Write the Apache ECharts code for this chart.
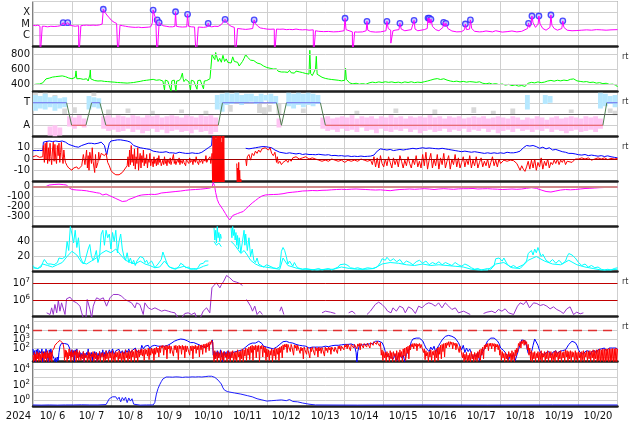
<!DOCTYPE html>
<html><head><meta charset="utf-8">
<script src="https://cdn.jsdelivr.net/npm/echarts@6/dist/echarts.min.js"></script>
<style>html,body{margin:0;padding:0;background:#fff}#c{width:634px;height:424px}</style>
</head><body><div id="c"></div><script>
// time axis: hours since 2024-10-06 00:00
const dayLabels = ['10/ 6','10/ 7','10/ 8','10/ 9','10/10','10/11','10/12','10/13','10/14','10/15','10/16','10/17','10/18','10/19','10/20'];
const yearLabel = '2024';
const rtLabel = 'rt';
const xrayClassLabels = {'-6':'C','-5':'M','-4':'X'};
const sectorLabels = {'1':'T','-1':'A'};

// X-ray flux, log10 W/m2
const xrayLog = [[0,-5.1],[1.5,-5.15],[3,-5.1],[4.3,-5.2],[4.4,-8],[5.6,-8],[5.7,-5.2],[7,-5.2],[9,-5.25],[11,-5.2],[13,-5.22],[15,-5.2],[17,-5.15],[18,-5.1],[18.6,-4.88],[19.5,-5.1],[20.5,-5.12],[21.4,-4.88],[22.5,-5.1],[24,-5.15],[26,-5.2],[28.1,-5.15],[28.2,-8],[29.4,-8],[29.5,-5.15],[31,-5.12],[33,-5.1],[35,-5.12],[37,-5.1],[39,-5.12],[41,-5.08],[42.6,-5.0],[43.3,-3.69],[44.3,-3.95],[45.5,-4.2],[47,-4.45],[48.5,-4.7],[50,-4.85],[51.5,-4.95],[52.2,-5.05],[52.3,-8],[53.5,-8],[53.6,-5.1],[55,-5.15],[57,-5.2],[59,-5.25],[61,-5.28],[63,-5.3],[65,-5.28],[67,-5.32],[69,-5.3],[71,-5.28],[72.5,-5.25],[73.5,-4.9],[74,-3.76],[74.8,-4.2],[75.6,-4.5],[76.3,-4.64],[76.4,-8],[77.6,-8],[77.7,-4.88],[78.5,-5.0],[80,-5.15],[82,-5.2],[84,-5.25],[86,-5.25],[87.4,-5.2],[87.8,-3.91],[88.3,-5.2],[90,-5.25],[92,-5.27],[94.7,-5.25],[95.2,-4.14],[95.8,-5.2],[97.5,-5.25],[99.5,-5.27],[100.4,-5.3],[100.5,-8],[101.7,-8],[101.8,-5.27],[103,-5.25],[105,-5.3],[107.3,-5.25],[107.9,-4.94],[108.6,-5.2],[110,-5.25],[112,-5.2],[114,-5.22],[116,-5.05],[117.2,-4.9],[118.3,-4.58],[119.3,-4.85],[120.5,-5.05],[122,-5.2],[124,-5.3],[124.6,-5.35],[124.7,-8],[125.9,-8],[126,-5.4],[127,-5.42],[129,-5.45],[131,-5.48],[133,-5.45],[135.3,-5.4],[136.2,-4.64],[137,-4.95],[138.5,-5.2],[140,-5.35],[142,-5.4],[144,-5.45],[146,-5.47],[148.6,-5.45],[148.7,-8],[149.9,-8],[150,-5.45],[152,-5.47],[154,-5.45],[156,-5.5],[158,-5.48],[160,-5.5],[162,-5.45],[164,-5.5],[166,-5.52],[168,-5.5],[170,-5.55],[172.6,-5.52],[172.7,-8],[173.9,-8],[174,-5.6],[176,-5.65],[179,-5.68],[182,-5.66],[185,-5.7],[188,-5.68],[191.6,-5.6],[192.2,-4.49],[192.8,-5.5],[194,-5.65],[196.7,-5.7],[196.8,-8],[198,-8],[198.1,-5.7],[200,-5.72],[203,-5.7],[205.2,-5.6],[205.7,-4.76],[206.2,-5.55],[208,-5.68],[211,-5.72],[214,-5.7],[217.4,-5.6],[218,-4.76],[218.8,-5.4],[220.3,-5.55],[220.4,-6.7],[221.6,-6.7],[221.7,-5.6],[223,-5.55],[225.4,-5.5],[226,-4.94],[226.8,-5.45],[229,-5.6],[231,-5.55],[233,-5.5],[234.2,-5.4],[234.7,-4.67],[235.3,-5.45],[237,-5.6],[239,-5.55],[241,-5.5],[242.8,-5.4],[243.3,-4.47],[243.7,-4.9],[244.1,-4.49],[244.6,-4.95],[245.1,-4.58],[246,-5.2],[248,-5.5],[250,-5.6],[252.5,-5.3],[252.9,-4.85],[253.6,-5.2],[254.3,-4.94],[255.5,-5.4],[258,-5.62],[261,-5.7],[264,-5.68],[265.8,-5.5],[266.3,-5.0],[267,-5.5],[268.9,-5.45],[269.4,-4.64],[270.2,-5.4],[272,-5.65],[275,-5.7],[277,-5.68],[279,-5.62],[280,-5.72],[283,-5.7],[285,-5.6],[286,-5.7],[289,-5.72],[292,-5.68],[295,-5.62],[298,-5.7],[301,-5.65],[304.6,-5.4],[305.2,-4.94],[305.9,-5.3],[306.8,-4.9],[307.3,-4.29],[308,-4.9],[309.5,-5.3],[311.1,-5.0],[311.6,-4.29],[312.3,-5.0],[314,-5.4],[316,-5.55],[318.4,-5.3],[319,-4.2],[319.6,-5.1],[321,-5.4],[323,-5.55],[325.7,-5.4],[326.3,-4.73],[327,-5.3],[329,-5.55],[332,-5.6],[335,-5.58],[338,-5.55],[341,-5.52],[344,-5.55],[347,-5.5],[350,-5.52],[353,-5.55],[356,-5.52],[360,-5.5]];
const flareLog = [[18.6,-4.88],[21.4,-4.88],[43.3,-3.69],[74.0,-3.76],[76.5,-4.64],[77.7,-4.88],[87.8,-3.91],[95.2,-4.14],[107.9,-4.94],[118.3,-4.58],[136.2,-4.64],[192.2,-4.49],[205.7,-4.76],[218.0,-4.76],[226.0,-4.94],[234.7,-4.67],[243.3,-4.47],[244.1,-4.49],[245.1,-4.58],[252.9,-4.85],[254.3,-4.94],[266.3,-5.0],[269.4,-4.64],[305.2,-4.94],[307.3,-4.29],[311.6,-4.29],[319.0,-4.2],[326.3,-4.73]];

// solar wind speed km/s
const windData = [[0,390],[1,378],[2,398],[3,385],[4,400],[5,392],[6,415],[7,440],[8,468],[9,490],[10,478],[11,500],[12,492],[13,510],[14,498],[15,515],[16,503],[17,520],[18,508],[19,515],[20,498],[21,490],[22,480],[23,476],[24,470],[25,472],[26,488],[26.5,575],[27,470],[28,456],[29,472],[30,455],[31,462],[32,450],[33,470],[34,440],[35,520],[35.3,590],[35.6,468],[36,450],[38,446],[40,440],[42,442],[44,435],[46,432],[48,428],[50,425],[52,420],[54,418],[56,415],[58,412],[60,416],[62,420],[64,428],[66,435],[68,445],[70,450],[72,456],[73,430],[74,462],[76,450],[78,456],[80,440],[81,320],[81.5,452],[83,440],[84,430],[85,305],[85.5,442],[87,452],[88,310],[88.5,440],[90,446],[91,475],[92,545],[92.5,470],[93,432],[94,462],[96,430],[97,322],[97.5,450],[99,440],[100,452],[101,330],[101.5,445],[103,452],[104,440],[105,335],[105.5,440],[107,446],[108,452],[109,470],[110,462],[110.3,800],[111,760],[112,725],[112.5,820],[113,780],[114,700],[115,742],[116,690],[117,782],[118,700],[119,735],[120,688],[121,712],[122,680],[123,762],[124,700],[125,722],[126,690],[127,640],[128,652],[129,700],[130,742],[131,792],[132,760],[133,742],[134,718],[135,700],[136,712],[137,690],[138,680],[139,702],[140,668],[141,660],[142,640],[143,652],[144,620],[145,640],[146,610],[147,632],[148,600],[149,590],[150,602],[151,570],[152,590],[153,560],[154,582],[155,560],[156,572],[157,555],[158,582],[159,550],[160,562],[161,545],[162,572],[163,560],[164,562],[165,555],[166,552],[167,545],[168,540],[169,520],[170,532],[170.5,850],[171,540],[172,512],[173,520],[174,600],[174.5,770],[175,530],[176,520],[178,490],[180,475],[182,466],[184,460],[186,455],[188,450],[190,442],[192,450],[192.5,610],[193,462],[195,415],[197,402],[199,410],[201,398],[203,405],[205,396],[207,415],[209,425],[211,418],[213,428],[215,420],[217,430],[219,422],[221,428],[223,418],[225,425],[227,415],[229,428],[231,420],[233,430],[235,418],[237,425],[239,420],[241,430],[243,440],[245,452],[247,465],[249,472],[251,460],[253,470],[255,452],[257,440],[259,432],[261,438],[263,428],[265,435],[267,425],[269,432],[271,428],[273,422],[275,430],[277,410],[279,402],[281,412],[283,398],[285,405],[287,392],[289,400],[291,385],[293,395],[295,378],[297,388],[299,372],[301,380],[303,368],[305,410],[307,422],[309,415],[311,428],[313,418],[315,425],[317,440],[319,448],[321,438],[323,450],[325,442],[327,452],[329,445],[331,462],[333,468],[335,442],[337,435],[339,428],[341,432],[343,420],[345,425],[347,412],[349,418],[351,405],[353,410],[355,395],[357,398],[359,385],[360,360]];

// sector polarity: 1 = T (toward), -1 = A (away)
const sectorLine = [[0,1],[20.7,1],[23.8,-1],[32.6,-1],[36.1,1],[41.2,1],[44.9,-1],[114.1,-1],[116.7,1],[150,1],[153,-1],[156.1,1],[177,1],[180.1,-1],[351,-1],[353.4,1],[360,1]];
// IMF direction clouds: [hour, from, to]
const blueCloud = [[0,0.3,1.7],[3,0.5,1.6],[6,0.4,1.8],[9,0.6,1.5],[12,0.3,1.6],[15,0.5,1.4],[18,0.6,1.5],[33,0.4,1.6],[36,0.6,1.5],[39,0.5,1.4],[112,0.4,1.7],[115,0.2,1.8],[118,0.8,1.9],[121,0.9,1.8],[124,1.0,1.9],[127,0.8,1.7],[130,1.0,1.8],[133,1.1,1.8],[136,0.9,1.6],[139,1.0,1.8],[142,1.2,1.7],[145,1.0,1.8],[148,0.9,1.6],[156,0.7,1.9],[159,0.5,1.8],[162,0.8,1.9],[165,0.6,1.8],[168,0.8,1.9],[171,0.7,1.8],[174,0.9,1.7],[303,0.4,1.7],[314,0.9,1.7],[317,1.0,1.6],[348,0.5,1.9],[351,0.7,1.8],[354,0.9,1.6],[357,0.6,1.7]];
const pinkCloud = [[9,-1.1,-1.9],[12,-1.0,-2.0],[15,-1.2,-1.9],[21,-0.2,-1.1],[24,-0.3,-1.3],[27,-0.1,-1.0],[30,-0.4,-1.2],[42,-0.2,-1.3],[45,-0.1,-1.5],[48,-0.3,-1.4],[51,-0.1,-1.6],[54,-0.2,-1.5],[57,-0.3,-1.3],[60,-0.1,-1.6],[63,-0.2,-1.4],[66,-0.3,-1.7],[69,-0.1,-1.5],[72,-0.2,-1.3],[75,-0.1,-1.6],[78,-0.3,-1.4],[81,-0.2,-1.7],[84,-0.1,-1.5],[87,-0.2,-1.4],[90,-0.3,-1.6],[93,-0.1,-1.5],[96,-0.2,-1.7],[99,-0.3,-1.4],[102,-0.1,-1.6],[105,-0.2,-1.5],[108,-0.1,-1.8],[111,-0.3,-1.6],[150,-0.4,-1.2],[177,-0.3,-1.3],[180,-0.2,-1.5],[183,-0.4,-1.4],[186,-0.3,-1.6],[189,-0.2,-1.3],[192,-0.3,-1.5],[195,-0.1,-1.4],[198,-0.4,-1.6],[201,-0.2,-1.2],[204,-0.3,-1.5],[207,-0.2,-1.4],[210,-0.4,-1.7],[213,-0.2,-1.3],[216,-0.3,-1.5],[219,-0.1,-1.6],[222,-0.3,-1.4],[225,-0.2,-1.5],[228,-0.4,-1.3],[231,-0.2,-1.6],[234,-0.3,-1.4],[237,-0.2,-1.7],[240,-0.3,-1.5],[243,-0.1,-1.4],[246,-0.3,-1.6],[249,-0.2,-1.5],[252,-0.4,-1.3],[255,-0.2,-1.6],[258,-0.3,-1.4],[261,-0.2,-1.5],[264,-0.4,-1.3],[267,-0.3,-1.6],[270,-0.2,-1.4],[273,-0.3,-1.5],[276,-0.2,-1.3],[279,-0.4,-1.6],[282,-0.3,-1.4],[285,-0.2,-1.7],[288,-0.3,-1.5],[291,-0.4,-1.4],[294,-0.2,-1.6],[297,-0.3,-1.3],[300,-0.5,-1.5],[303,-0.3,-1.4],[306,-0.4,-1.6],[309,-0.2,-1.4],[312,-0.3,-1.5],[315,-0.5,-1.3],[318,-0.3,-1.6],[321,-0.2,-1.4],[324,-0.4,-1.5],[327,-0.3,-1.7],[330,-0.2,-1.5],[333,-0.3,-1.4],[336,-0.4,-1.6],[339,-0.2,-1.5],[342,-0.3,-1.4],[345,-0.2,-1.6],[348,-0.4,-1.3]];
const grayCloud = [[0,1.5,1.9],[6,1.3,1.9],[12,1.3,1.7],[18,0.0,0.5],[24,0.1,0.6],[36,1.6,1.9],[45,0.0,0.4],[57,0.1,0.5],[72,0.0,0.3],[90,0.1,0.4],[105,0.0,0.3],[120,0.2,0.8],[138,0.1,0.9],[141,0.0,0.6],[144,0.2,0.8],[150,0.0,0.9],[165,0.1,0.5],[198,0.0,0.3],[222,0.1,0.5],[246,0.0,0.4],[270,0.1,0.6],[282,0.0,0.3],[294,0.0,0.5],[330,0.1,0.4],[354,0.1,0.5],[357,-0.1,0.3]];

// IMF Bt (blue) and Bz (red), nT
const btData = [[0,7.5],[2,7.5],[4,7.6],[6,7.5],[6.4,15],[8,15.5],[10,16],[12,15.5],[14,16],[16,15.5],[18,16],[20,15],[22,13],[24,12],[26,11],[28,10.5],[30,12],[32,13],[34,14],[35,15],[36,14],[38,13.5],[40,14],[42,15],[44,12],[45,6],[45.5,4],[46,8],[47,14],[48,16],[50,16.5],[52,17],[54,17],[56,16.5],[58,16],[60,15],[62,12],[64,11],[66,10],[68,9.5],[70,9],[72,8.5],[74,7],[76,6.5],[78,6],[80,6],[82,6.5],[84,5.5],[86,5.5],[88,5],[90,6],[92,5.5],[94,5],[96,5],[98,5.5],[100,5],[102,5],[104,6],[106,8],[108,10],[110,12],[110.5,22],[117.5,22],[117.6,null],[131,9.5],[133,9],[135,9.5],[137,10],[139,10.5],[141,11],[143,11],[145,10.5],[147,10],[149,8],[150,6.5],[152,6],[154,5.5],[156,5],[158,5.5],[160,5],[162,4.5],[164,5],[166,4],[168,4.5],[170,4],[172,4],[174,3.8],[176,4.2],[178,3.8],[180,3.5],[182,3.8],[184,3],[186,3.2],[188,2.8],[190,3],[192,2.5],[194,2.8],[196,2.2],[198,2.5],[200,2.2],[202,2.6],[204,2.2],[206,2.4],[208,2.6],[210,3.5],[212,7],[214,9],[216,8.5],[218,8],[220,8.5],[222,7.5],[224,8],[226,8.5],[228,8],[230,8.5],[232,9],[234,9.5],[236,9],[238,9.5],[240,10],[242,9.5],[244,9.8],[246,9.5],[248,9.2],[250,9],[252,9.5],[254,9],[256,8.5],[258,8],[260,7.5],[262,7],[264,6.5],[266,7],[268,6.5],[270,6],[272,6.5],[274,6],[276,5.5],[278,5],[280,5.5],[282,5],[284,5.5],[286,5],[288,5.5],[290,5],[292,6],[294,5.5],[296,5.5],[298,6],[300,7],[302,10],[304,12],[306,11.5],[308,12],[310,11],[312,9.5],[314,10.5],[316,9],[318,10],[320,8],[322,8.5],[324,7.5],[326,6.5],[328,6],[330,5],[332,5],[334,4.5],[336,3.8],[338,3.5],[340,4],[342,3],[344,3.5],[346,3],[348,2.5],[350,3],[352,2.2],[354,2.8],[356,2],[358,1.5],[360,1]];
const bzData = [[0,2],[1,1],[2,3],[3,2],[4,1.5],[5,3],[6,2],[6.4,12],[7,-3],[7.5,14],[8,0],[8.5,15],[9,-4],[9.5,10],[10,-2],[10.5,14],[11,2],[11.5,-5],[12,8],[12.5,15],[13,-2],[13.5,13],[14,0],[14.5,-4],[15,12],[15.5,3],[16,14],[16.5,-3],[17,6],[17.5,15],[18,2],[18.5,-4],[19,8],[19.5,1],[20,-3],[21,-6],[22,-8],[23,-9],[24,-10],[25,-8],[26,-9],[27,-7],[28,-9],[29,-10],[30,-6],[31,4],[32,-5],[33,8],[33.5,-8],[34,3],[34.5,-10],[35,6],[36,-4],[36.5,10],[37,-2],[38,-12],[38.5,4],[39,-8],[40,-3],[40.5,6],[41,-1],[42,5],[43,4],[44,3],[45,5],[46,-3],[47,-6],[48,-10],[49,-12],[50,-13],[51,-14],[52,-15],[53,-14],[54,-13],[55,-12],[56,-10],[57,-8],[58,-6],[58.5,2],[59,-7],[59.5,8],[60,-5],[60.5,12],[61,-3],[61.5,4],[62,-6],[62.5,9],[63,-9],[63.5,2],[64,-4],[64.5,10],[65,-10],[65.5,-1],[66,5],[66.5,-8],[67,3],[67.5,-3],[68,8],[68.5,-6],[69,1],[69.5,-4],[70,4],[70.5,-8],[71,0],[71.5,-3],[72,5],[72.5,-6],[73,0],[73.5,-2],[74,-7],[74.5,2],[75,-4],[75.5,0],[76,-6],[76.5,1],[77,-5],[77.5,3],[78,-3],[78.5,-1],[79,-6],[80,-1],[80.5,-5],[81,2],[81.5,-4],[82,-1],[82.5,-6],[83,0],[84,-4],[84.5,1],[85,-5],[85.5,-2],[86,-3],[86.5,4],[87,-4],[87.5,-1],[88,-5],[89,0],[89.5,-3],[90,1],[90.5,-5],[91,-1],[92,-4],[92.5,0],[93,-3],[94,-6],[94.5,0],[95,-2],[96,-4],[96.5,1],[97,-3],[98,-1],[98.5,-5],[99,0],[100,-3],[100.5,2],[101,-2],[102,-5],[102.5,0],[103,-3],[104,-1],[104.5,-4],[105,0],[106,-2],[106.5,3],[107,-3],[108,0],[109,2],[109.5,-4],[110,1],[110.3,5],[110.6,-22],[110.9,22],[111.2,-22],[111.5,22],[111.8,-22],[112.1,22],[112.4,-22],[112.7,18],[113,-22],[113.3,22],[113.6,-22],[113.9,22],[114.2,-22],[114.5,20],[114.8,-22],[115.1,22],[115.4,-22],[115.7,22],[116,-22],[116.3,15],[116.6,-22],[116.9,22],[117.2,-22],[117.5,22],[117.8,-22],[118.1,null],[125.5,-4],[125.8,-22],[126.1,-8],[126.4,-22],[126.7,-3],[127,-22],[127.3,-10],[127.6,-22],[128,-18],[128.3,-22],[128.5,null],[131,0],[131.5,-6],[132,2],[133,4],[134,-1],[135,5],[136,3],[137,7],[138,5],[139,8],[140,6],[141,9],[142,8],[143,10],[144,9],[145,8],[146,10],[147,5],[148,3],[149,6],[150,-3],[150.5,2],[151,-4],[152,-2],[153,-5],[154,-3],[155,-4],[156,-1],[157,-3],[158,0],[159,-2],[160,1],[162,2],[164,0],[166,1],[168,2],[170,0],[172,1],[174,0],[176,-1],[178,-2],[180,-1],[182,-2],[184,0],[186,-1],[188,-2],[190,-1],[192,-3],[194,-1],[196,-2],[198,-1],[200,-2],[202,0],[204,-1],[206,-2],[208,-1],[209,-5],[210,2],[211,-7],[212,1],[213,-8],[214,3],[215,-4],[216,-7],[217,0],[218,-6],[219,2],[220,-3],[221,-8],[222,1],[223,-5],[224,0],[225,-7],[226,3],[227,-2],[228,-8],[229,-1],[230,-6],[231,2],[232,-4],[233,-8],[234,0],[235,-5],[236,3],[237,-7],[238,-2],[239,-8],[240,4],[241,-6],[242,6],[243,-9],[244,-1],[245,5],[246,-8],[247,0],[248,-6],[249,4],[250,-9],[251,1],[252,-5],[253,5],[254,-8],[255,-2],[256,3],[257,-9],[258,0],[259,-5],[260,4],[261,-7],[262,1],[263,-8],[264,-3],[265,2],[266,-7],[267,0],[268,-5],[269,3],[270,-8],[271,-1],[272,-6],[273,2],[274,-8],[275,-3],[276,1],[277,-7],[278,-2],[279,-6],[280,0],[281,-8],[282,-3],[283,2],[284,-6],[285,-1],[286,-7],[287,0],[288,-4],[290,-1],[292,-2],[294,-1],[296,-1.5],[298,-4],[299,-7],[300,-10],[301,-6],[302,-9],[303,-11],[304,-7],[305,-2],[306,-9],[307,-1],[308,-8],[309,0],[310,-10],[311,-3],[312,-7],[313,1],[314,-9],[315,-2],[316,-6],[317,0],[318,-8],[319,-3],[320,-5],[321,-1],[322,-4],[323,0],[324,-5],[325,-1],[326,-3],[327,0],[328,-5],[329,-2],[330,-1],[332,-3],[334,0],[336,0],[338,1],[340,0],[342,1],[344,-1],[346,0],[348,1],[350,0],[352,1],[354,-0.5],[356,0.5],[358,0],[360,0.5]];

// Dst index, nT
const dstData = [[0,-2],[4,-3],[8,0],[10,15],[13,20],[16,23],[19,18],[20.7,15],[22,-10],[24,-30],[27,-35],[30,-38],[33,-43],[35,-50],[37,-55],[39,-62],[41,-67],[43,-85],[45,-75],[47,-90],[49,-105],[51,-120],[53,-135],[55,-150],[56,-157],[57.5,-145],[59,-130],[61,-118],[63,-105],[65,-92],[67,-85],[69,-82],[71,-80],[73,-78],[75,-80],[77,-75],[79,-65],[82,-60],[85,-55],[88,-50],[91,-45],[94,-38],[97,-33],[100,-30],[103,-27],[106,-22],[109,-15],[110.3,-5],[111,40],[111.8,10],[112.5,-60],[113.5,-130],[114.5,-170],[115.5,-190],[117,-230],[118.5,-270],[120,-310],[121.2,-333],[122,-315],[123,-290],[124.5,-280],[126,-270],[128,-258],[129.5,-250],[131,-225],[133,-195],[135,-165],[137,-140],[139,-115],[141,-95],[143,-85],[145,-82],[148,-80],[151,-78],[154,-72],[157,-62],[160,-57],[163,-52],[166,-45],[169,-43],[172,-40],[175,-42],[178,-38],[181,-37],[184,-33],[187,-30],[190,-28],[193,-30],[196,-27],[199,-25],[202,-28],[205,-30],[208,-33],[211,-35],[214,-33],[217,-38],[220,-42],[223,-35],[226,-30],[229,-28],[232,-25],[235,-28],[238,-25],[241,-22],[244,-25],[247,-30],[250,-25],[253,-22],[256,-25],[259,-28],[262,-24],[265,-22],[268,-22],[271,-20],[274,-25],[277,-23],[280,-22],[283,-25],[286,-27],[289,-30],[292,-28],[295,-25],[298,-28],[301,-25],[304,-18],[307,-12],[310,-18],[313,-35],[316,-50],[319,-55],[322,-45],[325,-35],[328,-30],[331,-33],[334,-30],[337,-25],[340,-20],[343,-18],[346,-15],[349,-12],[352,-10],[355,-8],[358,-8],[360,-7]];

// panel 6 (cyan), two traces
const cyanA = [[0,8],[1,5],[2,3],[3,4],[4,3],[5,6],[6,12],[7,16],[8,15],[9,10],[10,9],[11,10],[12,8],[13,9],[14,10],[15,12],[16,18],[17,19],[18,17],[19,16],[20,20],[21,40],[22,28],[23,60],[24,50],[25,38],[26,55],[27,32],[28,45],[29,20],[30,15],[31,10],[32,14],[33,15],[34,30],[35,36],[36,20],[37,15],[38,20],[39,28],[40,12],[41,20],[42,50],[43,55],[44,35],[45,55],[46,45],[47,50],[48,30],[49,52],[50,40],[51,55],[52,25],[53,40],[54,50],[55,30],[56,20],[57,15],[58,25],[59,12],[60,18],[61,10],[62,15],[63,8],[64,14],[65,12],[66,20],[67,22],[68,18],[69,12],[70,15],[71,10],[72,8],[73,14],[74,10],[75,5],[76,6],[77,10],[78,8],[79,16],[80,26],[81,28],[82,14],[83,9],[84,6],[85,5],[86,4],[87,6],[88,3],[89,5],[90,7],[91,11],[92,12],[93,8],[94,5],[95,4],[96,6],[97,3],[98,5],[99,4],[100,5],[101,3],[102,5],[103,10],[104,9],[105,11],[106,14],[107,13],[108,14],[108.5,null],[111.5,58],[112,42],[112.5,55],[113,38],[113.5,60],[114,45],[114.5,52],[115,40],[115.5,50],[116,44],[116.2,null],[122,58],[122.5,45],[123,60],[123.5,48],[124,56],[124.5,42],[125,52],[125.5,35],[126,48],[126.5,30],[127,45],[128,25],[129,40],[130,55],[130.5,35],[131,50],[132,28],[133,45],[134,20],[135,30],[136,15],[137,12],[138,18],[139,10],[140,8],[142,6],[144,9],[146,7],[148,5],[150,4],[152,6],[153,27],[154,32],[155,28],[156,20],[157,10],[158,14],[159,12],[160,7],[161,12],[162,8],[163,5],[164,4],[166,3],[168,4],[170,3],[172,2],[174,3],[176,4],[178,2],[180,3],[182,4],[184,2],[186,4],[188,6],[189,9],[190,11],[192,10],[194,8],[195.5,5],[198,4],[200,5],[203,3],[206,5],[209,4],[212,6],[214,12],[215,17],[217,15],[218,19],[220,14],[222,17],[224,13],[226,16],[228,10],[230,14],[232,12],[234,9],[236,13],[238,15],[240,11],[242,14],[244,9],[246,12],[248,10],[250,13],[252,9],[254,12],[256,10],[258,8],[260,12],[262,9],[264,7],[266,10],[268,8],[270,5],[272,3],[274,4],[276,2],[278,3],[280,4],[282,3],[284,8],[285,17],[287,18],[289,14],[290,18],[292,10],[294,6],[296,8],[298,5],[300,7],[302,9],[304,14],[305,24],[307,28],[308,22],[309,30],[310,25],[311,32],[312,26],[313,20],[314,23],[316,15],[318,12],[320,16],[322,11],[324,15],[326,10],[328,14],[329,20],[330,24],[332,22],[334,18],[336,12],[338,8],[340,10],[342,6],[344,8],[346,5],[348,6],[350,3],[352,2],[354,3],[356,2],[358,4],[360,5]];
const cyanB = [[0,5],[3,4],[6,10],[9,8],[12,6],[15,9],[18,12],[21,20],[24,27],[27,22],[30,12],[33,10],[36,14],[39,18],[42,24],[45,28],[48,25],[51,30],[54,22],[57,15],[60,12],[63,10],[66,14],[69,10],[72,8],[75,5],[78,6],[81,14],[84,6],[87,4],[90,5],[93,7],[96,4],[99,3],[102,4],[105,7],[108,9],[108.5,null],[111.5,40],[113,35],[114.5,38],[116,33],[116.2,null],[122,40],[124,36],[126,30],[128,24],[130,28],[132,22],[134,15],[137,10],[140,7],[143,6],[146,5],[149,4],[152,3],[154,18],[157,8],[160,6],[163,4],[166,3],[170,3],[175,2],[180,3],[185,3],[190,6],[195,4],[200,3],[205,3],[210,4],[215,10],[220,12],[225,11],[230,9],[235,8],[240,10],[245,8],[250,9],[255,8],[260,7],[265,6],[270,3],[275,2],[280,2],[285,10],[290,12],[295,5],[300,4],[305,15],[310,20],[315,14],[320,10],[325,9],[330,15],[335,9],[340,6],[345,4],[350,2],[355,2],[360,3]];

// >2 MeV electron flux, log10
const electronLog = [[8.4,5.22],[9.4,5.32],[10.5,5.12],[11.5,5.52],[12.5,5.12],[13.5,5.72],[14.6,5.22],[15.6,5.96],[16.6,5.32],[17.6,5.82],[18.7,5.92],[19.7,5.12],[20.7,6.06],[22.8,6.16],[23.8,6.12],[24.8,5.92],[26.9,5.82],[28.9,5.62],[30,5.22],[31,4.9],[32.6,4.9],[33.4,6.02],[34.2,6.12],[35.1,5.42],[36.1,4.9],[37.1,5.62],[38.2,5.92],[39.2,6.12],[40.2,6.22],[41.2,6.02],[43.3,6.12],[45.3,5.62],[46.4,5.72],[47.4,6.12],[49.4,6.32],[50.5,6.38],[52.5,6.32],[54.6,6.22],[56.6,6.02],[58.7,5.92],[60.7,5.82],[62.8,5.52],[63.8,5.82],[65.8,5.72],[67.9,5.12],[68.9,5.82],[71,5.52],[73,5.42],[75.1,5.52],[77.1,5.42],[79.2,5.32],[81.2,5.38],[83.3,5.32],[85.3,5.26],[87.4,5.22],[89.4,4.9],[91.5,4.9],[93.5,5.18],[95.6,5.22],[97.6,5.12],[99.7,5.22],[100.7,4.9],[103,4.9],[104.8,5.32],[106.9,5.52],[108.9,5.22],[109.8,5.2],[110.2,6.72],[111.4,6.86],[113,7.02],[115.1,6.72],[116.1,6.92],[117.5,7.12],[119.2,7.46],[121.2,7.32],[123.3,7.12],[125.3,7.06],[127.4,6.98],[129,6.86],[129.2,null],[131.5,6.02],[132.5,6.12],[134,5.62],[135.2,5.32],[136.6,5.62],[138,5.12],[139.7,5.32],[141.3,5.12],[141.5,null],[152,5.32],[153,5.58],[154.5,5.12],[154.7,null],[178,5.22],[180.1,5.32],[183.2,5.26],[186.2,5.18],[186.4,null],[194.4,5.22],[196.5,5.32],[198.5,5.16],[198.7,null],[205.7,5.12],[207.8,5.32],[210.8,5.72],[212.9,5.86],[215,5.72],[217,5.52],[218.4,5.32],[220.5,5.22],[221.7,5.52],[223.8,5.32],[225.8,5.62],[227.9,5.52],[229.3,5.22],[231.3,5.58],[233.4,5.46],[235.5,5.18],[237.5,5.62],[239.6,5.52],[241.6,5.72],[243.7,5.82],[245.7,5.76],[247.8,5.62],[249.8,5.82],[251.9,5.52],[253.9,5.82],[256,5.62],[258,5.42],[260.1,5.52],[262.1,5.22],[265.2,5.32],[269.3,5.12],[269.5,null],[277.5,5.18],[279.6,5.26],[282.6,5.32],[284.7,5.22],[286.7,5.42],[288.8,5.32],[290.8,5.46],[292.9,5.22],[296,5.12],[298.4,5.62],[300.1,5.82],[302.1,5.72],[303.8,5.92],[305.8,5.52],[308.3,5.82],[310.3,5.78],[312.4,5.66],[314.4,5.72],[316.5,5.62],[318.5,5.46],[320.6,5.58],[322.6,5.42],[324.7,5.32],[326.7,5.18],[328.8,5.46],[330.8,5.58],[332.9,5.12],[334.9,5.26],[337,5.16],[339,5.22]];

// proton flux (blue, red), log10
const protonBlueLog = [[0,1.9],[0.5,1.2],[1,1.7],[1.5,0.4],[2,1.8],[2.5,1.3],[3,1.9],[3.5,1.0],[4,1.7],[5,1.4],[5.5,1.9],[6,0.4],[6.5,1.6],[7,1.8],[7.5,1.2],[8,1.9],[8.5,1.5],[9,1.7],[9.5,0.4],[10,1.8],[10.5,1.3],[11,1.9],[11.5,1.4],[12,1.6],[12.5,1.2],[13,0.8],[13.5,0.5],[14,0.9],[14.5,0.4],[15,1.0],[15.5,0.6],[16,1.5],[16.6,2.2],[17.5,2.5],[18.5,2.55],[19.5,2.5],[20.5,2.45],[21.5,2.4],[22.5,2.0],[23,1.6],[23.5,1.0],[24,1.8],[24.5,1.2],[25,1.7],[25.5,0.5],[26,1.8],[26.5,1.3],[27,1.9],[27.5,1.4],[28,1.6],[28.5,1.0],[29,1.5],[29.5,0.9],[30,1.4],[30.5,1.1],[31,1.6],[31.5,0.5],[32,1.4],[32.5,1.0],[33,1.5],[33.5,1.2],[34,1.9],[34.5,0.9],[35,1.4],[35.5,1.1],[36,1.5],[36.5,0.6],[37,1.4],[37.5,1.0],[38,1.6],[38.5,1.2],[39,1.5],[39.5,0.5],[40,1.4],[40.5,1.1],[41,1.6],[41.5,0.9],[42,1.5],[42.5,1.2],[43,1.8],[43.5,1.0],[44,1.5],[44.5,1.1],[45,1.7],[46,1.3],[47,1.8],[48,1.4],[49,1.9],[50,1.3],[51,1.7],[52,1.5],[53,1.85],[54,1.4],[55,1.7],[56,1.3],[57,1.8],[58,1.5],[59,1.9],[60,1.4],[61,1.7],[62,1.5],[63,2.0],[64,1.6],[65,1.8],[66,1.5],[67,2.3],[68,1.9],[69,2.2],[70,2.0],[71,2.3],[72,1.9],[73,2.2],[74,2.0],[75,2.3],[76,2.1],[77,2.2],[78,2.0],[79,2.2],[80,2.3],[81,2.2],[82,2.35],[83,2.3],[84,2.4],[85,2.5],[86,2.6],[87,2.75],[88,2.85],[89,2.9],[90,2.95],[91,3.0],[92,3.0],[93,2.95],[94,2.9],[95,2.8],[96,2.7],[97,2.6],[98,2.55],[99,2.6],[100,2.5],[101,2.45],[102,2.4],[103,2.3],[104,2.2],[105,2.1],[106,2.0],[107,2.1],[108,2.2],[109,2.4],[110,2.6],[110.5,2.9],[111,1.2],[111.5,1.6],[112,0.8],[112.5,1.5],[113,1.1],[113.5,1.7],[114,0.9],[114.5,1.5],[115,1.2],[115.5,1.8],[116,1.0],[116.5,1.4],[117,0.5],[117.5,1.6],[118,1.2],[118.5,1.5],[119,0.9],[119.5,1.6],[120,1.1],[120.5,1.7],[121,1.3],[121.5,0.7],[122,1.5],[122.5,1.2],[123,1.5],[124,1.4],[125,1.6],[126,1.5],[127,1.7],[128,1.5],[129,1.8],[130,1.9],[131,2.1],[132,2.3],[133,2.4],[134,2.5],[135,2.55],[136,2.6],[137,2.55],[138,2.65],[139,2.75],[140,2.7],[141,2.5],[142,2.2],[143,2.0],[144,2.1],[145,1.9],[146,2.0],[147,2.1],[148,1.9],[149,2.0],[150,2.1],[151,2.2],[152,2.4],[153,2.6],[154,2.7],[155,2.8],[156,2.75],[157,2.7],[158,2.6],[159,2.5],[160,2.55],[161,2.45],[162,2.4],[163,2.4],[164,2.3],[165,2.2],[166,2.25],[167,2.1],[168,2.2],[169,2.15],[170,2.0],[171,2.2],[172,2.1],[173,2.15],[174,2.1],[175,2.05],[176,2.1],[178,2.1],[180,2.2],[182,2.15],[184,2.25],[186,2.3],[188,2.3],[190,2.35],[192,2.4],[194,2.4],[196,2.45],[198,2.3],[199,1.5],[199.5,0.4],[200,1.6],[201,2.3],[203,2.35],[205,2.4],[207,2.45],[209,2.5],[210,2.7],[211,2.75],[212,2.8],[213,2.75],[214,2.7],[215,2.6],[216,2.2],[217,1.6],[218,1.2],[219,1.4],[220,1.0],[221,1.2],[222,0.8],[223,1.3],[224,0.6],[225,1.1],[226,1.4],[227,0.9],[228,1.2],[229,0.5],[230,1.3],[231,1.5],[232,2.0],[233,2.7],[234,3.0],[235,3.1],[236,3.1],[237,3.05],[238,3.1],[239,3.0],[240,2.8],[241,2.4],[242,2.0],[243,2.2],[244,1.6],[245,2.1],[246,1.8],[247,2.2],[248,1.5],[249,2.0],[250,2.3],[251,2.6],[252,2.9],[253,3.1],[254,3.3],[255,3.35],[256,3.4],[257,3.35],[258,3.3],[259,3.2],[260,3.1],[261,2.9],[262,2.6],[263,2.2],[264,1.8],[265,2.3],[266,1.5],[267,2.0],[268,1.6],[269,1.9],[270,1.4],[271,0.8],[272,1.3],[273,1.0],[274,1.5],[275,0.6],[276,1.2],[277,1.4],[278,1.9],[279,2.4],[280,2.8],[281,3.0],[282,3.1],[283,3.15],[284,3.1],[285,3.0],[286,2.8],[287,2.5],[288,2.0],[289,1.9],[290,1.7],[291,1.5],[292,1.2],[293,0.7],[294,1.3],[295,1.0],[296,1.4],[297,0.6],[298,1.2],[299,1.8],[300,2.4],[301,2.9],[302,3.0],[303,2.8],[304,2.2],[305,1.4],[306,1.2],[307,1.5],[308,2.3],[309,3.0],[310,2.9],[311,2.3],[312,1.7],[313,1.4],[314,1.6],[315,1.2],[316,1.5],[317,1.3],[318,1.6],[319,1.2],[320,1.5],[321,1.4],[322,1.7],[323,1.3],[324,1.6],[325,1.4],[326,1.7],[327,1.5],[328,1.8],[329,2.1],[330,2.4],[331,2.6],[332,2.75],[333,2.85],[334,2.6],[335,2.3],[336,1.8],[337,1.5],[338,1.7],[339,1.3],[340,1.6],[341,1.4],[342,1.7],[343,1.2],[344,1.6],[345,1.5],[346,1.7],[347,1.4],[348,1.8],[349,1.6],[350,1.9],[351,1.8],[352,2.0],[353,1.7],[354,1.9],[355,2.0],[356,1.8],[357,2.0],[358,1.9],[359,2.0],[360,1.9]];
const protonRedLog = [[0,1.2],[0.4,0.5],[0.8,1.5],[1.2,0.6],[1.6,1.3],[2,0.5],[2.4,1.6],[2.8,0.8],[3.2,1.4],[3.6,0.5],[4,1.5],[4.4,0.7],[4.8,1.3],[5.2,0.5],[5.6,1.6],[6,0.9],[6.4,1.4],[6.8,0.5],[7.2,1.6],[7.6,0.8],[8,1.5],[8.4,0.5],[8.8,1.7],[9.2,0.9],[9.6,1.4],[10,0.5],[10.4,1.6],[10.8,0.7],[11.2,1.5],[11.6,0.5],[12,1.7],[12.5,1.5],[13,2.0],[13.5,2.3],[14,2.5],[15,2.6],[16,2.8],[16.6,2.85],[17.5,2.7],[18.5,2.5],[19,2.0],[19.4,0.6],[19.8,1.8],[20.2,1.0],[20.6,1.7],[21,0.5],[21.4,1.5],[21.8,0.8],[22.2,1.9],[22.6,1.1],[23,1.6],[23.4,0.5],[23.8,1.8],[24.2,1.0],[24.6,1.5],[25,0.6],[25.4,1.7],[25.8,1.2],[26.2,1.6],[26.6,0.5],[27,1.8],[27.4,0.9],[27.8,1.5],[28.2,0.6],[28.6,1.7],[29,1.5],[29.5,0.6],[30,1.3],[30.5,0.8],[31,1.6],[31.5,0.5],[32,1.4],[32.5,0.9],[33,1.2],[33.5,0.5],[34,1.6],[34.5,0.7],[35,1.5],[35.5,0.5],[36,1.3],[36.5,1.0],[37,1.6],[37.5,0.5],[38,1.4],[38.5,0.8],[39,1.5],[39.5,0.5],[40,1.2],[40.5,0.7],[41,1.6],[41.5,0.5],[42,1.4],[42.5,1.0],[43,1.5],[43.5,0.5],[44,1.3],[44.5,0.6],[45,1.7],[45.5,0.8],[46,1.4],[46.5,0.5],[47,1.6],[47.5,0.9],[48,1.5],[48.5,0.5],[49,1.7],[49.5,0.7],[50,1.4],[50.5,0.5],[51,1.6],[51.5,1.0],[52,1.5],[52.5,0.5],[53,1.7],[53.5,0.8],[54,1.4],[54.5,0.5],[55,1.6],[55.5,0.7],[56,1.5],[56.5,0.5],[57,1.8],[57.5,0.9],[58,1.5],[58.5,0.5],[59,1.7],[59.5,0.8],[60,1.6],[60.5,0.5],[61,1.8],[61.5,1.0],[62,1.6],[62.5,0.5],[63,1.9],[63.5,0.9],[64,1.7],[64.5,0.5],[65,1.8],[65.5,1.0],[66,1.8],[66.5,1.2],[67,1.9],[67.5,1.1],[68,1.8],[68.5,0.6],[69,1.9],[69.5,1.3],[70,1.8],[70.5,1.1],[71,2.0],[71.5,0.7],[72,1.9],[72.5,1.2],[73,2.0],[73.5,1.4],[74,1.9],[74.5,0.6],[75,2.0],[75.5,1.3],[76,2.1],[76.5,1.5],[77,2.0],[77.5,1.0],[78,2.2],[78.5,1.5],[79,2.25],[79.5,2.0],[80,2.3],[80.5,1.2],[81,2.2],[81.5,1.8],[82,2.3],[82.5,0.8],[83,2.25],[83.5,1.9],[84,2.3],[84.5,1.4],[85,2.2],[85.5,2.0],[86,2.3],[86.5,1.1],[87,2.25],[87.5,1.8],[88,2.3],[88.5,1.5],[89,2.2],[89.5,0.7],[90,2.3],[90.5,1.9],[91,2.2],[91.5,1.3],[92,2.3],[92.5,1.8],[93,2.2],[93.5,0.9],[94,2.25],[94.5,1.6],[95,2.2],[95.5,2.0],[96,2.3],[96.5,1.2],[97,2.2],[97.5,1.7],[98,2.25],[98.5,0.8],[99,2.2],[99.5,1.9],[100,2.3],[100.5,1.4],[101,2.2],[101.5,1.8],[102,2.3],[102.5,1.0],[103,2.3],[103.5,1.8],[104,2.35],[104.5,1.3],[105,2.4],[105.5,2.0],[106,2.45],[106.5,1.5],[107,2.5],[107.5,2.1],[108,2.6],[108.5,1.7],[109,2.7],[109.5,2.4],[110,2.85],[110.5,3.0],[110.8,2.6],[111,1.5],[111.5,0.5],[112,1.7],[112.5,0.8],[113,1.5],[113.5,0.5],[114,1.6],[114.5,0.9],[115,1.4],[115.5,0.5],[116,1.7],[116.5,0.7],[117,1.5],[117.5,0.5],[118,1.6],[118.5,1.0],[119,1.4],[119.5,0.5],[120,1.7],[120.5,0.8],[121,1.5],[121.5,0.5],[122,1.6],[122.5,0.9],[123,1.7],[123.5,0.5],[124,1.5],[124.5,0.7],[125,1.6],[125.5,0.5],[126,1.8],[126.5,1.0],[127,1.6],[127.5,0.5],[128,1.7],[128.5,0.8],[129,1.9],[129.5,0.5],[130,1.8],[130.5,1.1],[131,2.0],[131.5,0.6],[132,1.9],[132.5,1.2],[133,2.1],[133.5,0.7],[134,2.2],[134.5,1.5],[135,2.3],[135.5,0.6],[136,2.2],[136.5,1.8],[137,2.3],[137.5,0.9],[138,2.25],[138.5,1.6],[139,2.3],[139.5,0.5],[140,2.2],[140.5,1.9],[141,2.3],[141.5,1.0],[142,2.2],[142.5,1.5],[143,2.1],[143.5,0.6],[144,1.9],[144.5,1.0],[145,1.8],[145.5,0.6],[146,1.7],[146.5,1.2],[147,1.9],[147.5,0.5],[148,1.8],[148.5,1.1],[149,2.0],[149.5,0.7],[150,1.9],[150.5,1.3],[151,2.0],[151.5,0.6],[152,2.1],[152.5,1.5],[153,2.2],[153.5,0.9],[154,2.35],[154.5,1.8],[155,2.4],[155.5,2.1],[156,2.45],[156.5,1.5],[157,2.4],[157.5,2.2],[158,2.35],[158.5,1.6],[159,2.4],[159.5,2.1],[160,2.3],[160.5,1.2],[161,2.35],[161.5,2.0],[162,2.3],[162.5,1.7],[163,2.3],[163.5,2.1],[164,2.25],[164.5,1.4],[165,2.1],[165.5,1.7],[166,2.0],[166.5,0.8],[167,2.1],[167.5,1.8],[168,2.0],[168.5,1.3],[169,2.1],[169.5,1.7],[170,1.9],[170.5,0.9],[171,2.0],[171.5,1.6],[172,2.1],[172.5,1.8],[173,2.0],[173.5,1.2],[174,2.1],[174.5,1.7],[175,2.0],[175.5,1.0],[176,2.1],[176.5,1.7],[177,2.0],[177.5,1.4],[178,2.05],[178.5,1.8],[179,2.0],[179.5,1.1],[180,2.1],[180.5,1.7],[181,2.0],[181.5,1.5],[182,2.1],[182.5,1.8],[183,2.05],[183.5,1.3],[184,2.1],[184.5,1.9],[185,2.15],[185.5,1.6],[186,2.1],[186.5,1.9],[187,2.2],[187.5,1.4],[188,2.2],[188.5,1.9],[189,2.25],[189.5,1.7],[190,2.2],[190.5,2.0],[191,2.3],[191.5,1.8],[192,2.35],[192.5,2.1],[193,2.4],[193.5,1.9],[194,2.4],[194.5,2.2],[195,2.45],[195.5,1.7],[196,2.4],[196.5,2.2],[197,2.45],[197.5,2.0],[198,2.4],[198.5,2.25],[199,2.5],[199.5,1.9],[200,2.45],[200.5,2.2],[201,2.5],[201.5,1.8],[202,2.5],[202.5,2.3],[203,2.55],[203.5,2.0],[204,2.5],[204.5,2.3],[205,2.55],[205.5,2.1],[206,2.55],[206.5,2.35],[207,2.6],[207.5,2.0],[208,2.6],[208.5,2.4],[209,2.6],[209.5,2.3],[210,2.7],[210.5,2.5],[211,2.75],[211.5,2.4],[212,2.75],[212.5,2.5],[213,2.7],[213.5,2.2],[214,2.6],[214.5,1.2],[215,1.8],[215.5,0.6],[216,1.6],[216.5,0.9],[217,1.5],[217.5,0.5],[218,1.6],[218.5,1.0],[219,1.4],[219.5,0.5],[220,1.7],[220.5,0.8],[221,1.5],[221.5,0.5],[222,1.6],[222.5,1.1],[223,1.4],[223.5,0.5],[224,1.7],[224.5,0.7],[225,1.5],[225.5,0.5],[226,1.8],[226.5,1.0],[227,1.6],[227.5,0.5],[228,1.9],[228.5,1.1],[229,2.0],[229.5,0.6],[230,2.1],[230.5,1.4],[231,2.2],[231.5,0.8],[232,2.3],[232.5,1.8],[233,2.4],[233.5,2.1],[234,2.5],[234.5,1.9],[235,2.5],[235.5,2.2],[236,2.5],[236.5,1.7],[237,2.45],[237.5,2.2],[238,2.5],[238.5,2.0],[239,2.4],[239.5,2.1],[240,2.3],[240.5,1.5],[241,1.9],[241.5,0.7],[242,1.7],[242.5,1.1],[243,1.5],[243.5,0.5],[244,1.6],[244.5,1.0],[245,1.8],[245.5,0.6],[246,1.6],[246.5,1.2],[247,1.7],[247.5,0.5],[248,1.8],[248.5,0.9],[249,2.0],[249.5,0.6],[250,2.1],[250.5,1.3],[251,2.3],[251.5,0.8],[252,2.4],[252.5,1.6],[253,2.5],[253.5,1.0],[254,2.55],[254.5,2.0],[255,2.6],[255.5,2.3],[256,2.7],[256.5,2.1],[257,2.7],[257.5,2.4],[258,2.65],[258.5,1.9],[259,2.6],[259.5,2.3],[260,2.55],[260.5,1.8],[261,2.5],[261.5,2.2],[262,2.4],[262.5,1.5],[263,2.2],[263.5,1.8],[264,2.0],[264.5,0.9],[265,1.5],[265.5,0.5],[266,1.3],[266.5,0.7],[267,1.5],[267.5,0.5],[268,1.2],[268.5,0.6],[269,1.4],[269.5,0.5],[270,1.6],[270.5,0.8],[271,1.3],[271.5,0.5],[272,1.5],[272.5,0.7],[273,1.4],[273.5,0.5],[274,1.6],[274.5,0.9],[275,1.8],[275.5,0.6],[276,1.9],[276.5,1.2],[277,2.1],[277.5,0.8],[278,2.3],[278.5,1.9],[279,2.45],[279.5,2.1],[280,2.5],[280.5,1.7],[281,2.5],[281.5,2.2],[282,2.55],[282.5,1.9],[283,2.5],[283.5,2.2],[284,2.5],[284.5,1.6],[285,2.45],[285.5,2.1],[286,2.4],[286.5,1.8],[287,2.3],[287.5,1.2],[288,1.8],[288.5,0.6],[289,1.6],[289.5,0.9],[290,1.4],[290.5,0.5],[291,1.5],[291.5,0.8],[292,1.3],[292.5,0.5],[293,1.6],[293.5,1.0],[294,1.4],[294.5,0.5],[295,1.7],[295.5,0.7],[296,1.5],[296.5,0.5],[297,1.8],[297.5,1.1],[298,2.0],[298.5,1.5],[299,2.5],[299.5,2.2],[300,2.7],[300.5,2.0],[301,2.8],[301.5,2.5],[302,2.9],[302.5,2.3],[303,2.85],[303.5,2.4],[304,2.7],[304.5,1.8],[305,2.4],[305.5,1.2],[306,2.0],[306.5,0.6],[307,1.7],[307.5,0.5],[308,1.5],[308.5,0.8],[309,1.6],[309.5,0.5],[310,1.4],[310.5,0.9],[311,1.6],[311.5,0.5],[312,1.5],[312.5,0.7],[313,1.7],[313.5,0.5],[314,1.4],[314.5,1.0],[315,1.6],[315.5,0.5],[316,1.5],[316.5,0.8],[317,1.7],[317.5,0.5],[318,1.5],[318.5,0.9],[319,1.6],[319.5,0.5],[320,1.4],[320.5,0.7],[321,1.6],[321.5,0.5],[322,1.7],[322.5,1.0],[323,1.5],[323.5,0.5],[324,1.6],[324.5,0.8],[325,1.7],[325.5,0.5],[326,1.5],[326.5,0.9],[327,1.6],[327.5,0.5],[328,1.8],[328.5,1.0],[329,1.7],[329.5,0.5],[330,1.6],[330.5,0.8],[331,1.7],[331.5,0.5],[332,1.6],[332.5,1.0],[333,1.5],[333.5,0.5],[334,1.7],[334.5,0.7],[335,1.5],[335.5,0.5],[336,1.6],[336.5,0.9],[337,1.5],[337.5,0.5],[338,1.6],[338.5,0.7],[339,1.7],[339.5,0.5],[340,1.5],[340.5,1.0],[341,1.7],[341.5,0.5],[342,1.6],[342.5,0.8],[343,1.7],[343.5,0.5],[344,1.6],[344.5,0.9],[345,1.8],[345.5,0.5],[346,1.7],[346.5,0.8],[347,1.8],[347.5,0.5],[348,1.8],[348.5,0.6],[349,1.9],[349.5,0.5],[350,1.8],[350.5,0.6],[351,1.9],[351.5,0.5],[352,1.85],[352.5,0.5],[353,1.9],[353.5,0.6],[354,1.9],[354.5,0.5],[355,1.95],[355.5,0.5],[356,1.9],[356.5,0.6],[357,1.95],[357.5,0.5],[358,1.9],[358.5,0.5],[359,2.0],[359.5,0.5],[360,1.9]];

// >10 MeV proton flux, log10
const proton10Log = [[0,-0.6],[5,-0.62],[10,-0.6],[15,-0.62],[20,-0.6],[25,-0.6],[30,-0.58],[35,-0.6],[40,-0.6],[45,-0.55],[46,-0.3],[47,0.2],[48,0.4],[49,0.45],[50,0.3],[51,0.45],[52,0.1],[53,0.4],[54,-0.2],[55,0.35],[56,0.0],[57,0.4],[58,-0.3],[59,0.3],[60,-0.1],[61,0.2],[62,-0.5],[63,-0.6],[66,-0.62],[70,-0.6],[74,-0.6],[75,-0.3],[76,0.8],[77,1.5],[78,2.0],[79,2.4],[80,2.75],[81,2.95],[82,3.0],[84,3.0],[86,2.98],[88,3.02],[90,3.0],[92,2.95],[94,3.0],[96,2.98],[98,3.02],[100,3.0],[102,3.03],[104,3.0],[106,3.05],[108,3.1],[110,3.1],[111,3.15],[112,2.95],[113,2.8],[114,2.6],[115,2.4],[116,2.1],[117,1.6],[118,1.3],[119,1.2],[120,1.1],[124,0.95],[128,0.8],[132,0.6],[135,0.45],[138,0.2],[141,0.05],[144,-0.1],[147,-0.05],[150,0.0],[153,0.05],[156,-0.05],[158,0.1],[160,-0.15],[163,-0.2],[166,-0.35],[170,-0.5],[174,-0.6],[200,-0.62],[240,-0.6],[280,-0.62],[320,-0.6],[360,-0.6]];

// ---------- build ----------
const FONT = 'DejaVu Sans';
const TXT = '#111';
const BIN_W = 3;
const toData = a => a.map(p => [p[0], p[1] == null ? '-' : p[1]]);
const pow10 = a => a.map(p => [p[0], p[1] == null ? '-' : Math.pow(10, p[1])]);

function sectorSeg(kind) {
  const out = [];
  for (let i = 0; i < sectorLine.length - 1; i++) {
    const a = sectorLine[i], b = sectorLine[i + 1];
    const k = (a[1] === 1 && b[1] === 1) ? 'T' : (a[1] === -1 && b[1] === -1) ? 'A' : 'X';
    if (k === kind) out.push([a[0], a[1]], [b[0], b[1]], [b[0], '-']);
  }
  return out;
}

const grids = [], xAxes = [];
for (let i = 0; i < 9; i++) {
  grids.push({left: 33, top: 1.5 + 45 * i, width: 584.5, height: 45, show: true, borderColor: '#000', borderWidth: 1, backgroundColor: 'rgba(0,0,0,0)'});
  xAxes.push({type: 'value', gridIndex: i, min: 0, max: 360, interval: 24,
    axisLine: {show: true, onZero: false, lineStyle: {color: '#1e1e1e', width: 2.5}},
    axisTick: {show: false},
    splitLine: {show: true, lineStyle: {color: '#cfcfcf', width: 1}},
    axisLabel: i === 8 ? {show: true, customValues: dayLabels.map((_, k) => 12 + 24 * k),
      formatter: v => dayLabels[Math.round((v - 12) / 24)] || '', fontFamily: FONT, fontSize: 10, color: TXT, margin: 5} : {show: false}
  });
}

const supRich = {
  b: {fontFamily: FONT, fontSize: 10, color: TXT, verticalAlign: 'bottom', lineHeight: 11},
  s: {fontFamily: FONT, fontSize: 7, color: TXT, verticalAlign: 'bottom', lineHeight: 8, padding: [0, 0, 5, 0]}
};
function expLabel(shown) {
  return v => { const l = Math.log10(v), e = Math.round(l);
    return (Math.abs(l - e) < 1e-3 && shown.indexOf(e) >= 0) ? '{b|10}{s|' + e + '}' : ''; };
}
const lbl = extra => Object.assign({fontFamily: FONT, fontSize: 10, color: TXT, margin: 3}, extra);
const split = {show: true, lineStyle: {color: '#cfcfcf', width: 1}};
const yCommon = {axisLine: {show: false}, axisTick: {show: false}};

const yAxes = [
  Object.assign({type: 'log', gridIndex: 0, min: 1e-7, max: 1e-3, splitLine: split,
    axisLabel: lbl({formatter: v => { const l = Math.log10(v), e = Math.round(l); return Math.abs(l - e) < 1e-3 ? (xrayClassLabels[String(e)] || '') : ''; }})}, yCommon),
  Object.assign({type: 'value', gridIndex: 1, min: 300, max: 900, interval: 100, splitLine: {show: false},
    axisLabel: lbl({formatter: v => (v % 200 === 0 && v >= 400 && v <= 800) ? String(v) : ''})}, yCommon),
  Object.assign({type: 'value', gridIndex: 2, min: -2, max: 2, interval: 1, splitLine: split,
    axisLabel: lbl({formatter: v => sectorLabels[String(v)] || ''})}, yCommon),
  Object.assign({type: 'value', gridIndex: 3, min: -20, max: 20, interval: 10, splitLine: split,
    axisLabel: lbl({formatter: v => Math.abs(v) <= 10 ? String(v) : ''})}, yCommon),
  Object.assign({type: 'value', gridIndex: 4, min: -400, max: 50, interval: 100, splitLine: split,
    axisLabel: lbl({formatter: v => (v <= 0 && v >= -300) ? String(v) : ''})}, yCommon),
  Object.assign({type: 'value', gridIndex: 5, min: 0, max: 60, interval: 20, splitLine: split,
    axisLabel: lbl({formatter: v => (v === 20 || v === 40) ? String(v) : ''})}, yCommon),
  Object.assign({type: 'log', gridIndex: 6, min: 1e5, max: 5e7, splitLine: split,
    axisLabel: lbl({formatter: expLabel([6, 7]), rich: supRich})}, yCommon),
  Object.assign({type: 'log', gridIndex: 7, min: Math.pow(10, 0.5), max: Math.pow(10, 5.5), splitLine: split,
    axisLabel: lbl({formatter: expLabel([2, 3, 4]), rich: supRich})}, yCommon),
  Object.assign({type: 'log', gridIndex: 8, min: Math.pow(10, -0.8), max: 1e5, splitLine: split,
    axisLabel: lbl({formatter: expLabel([0, 2, 4]), rich: supRich})}, yCommon)
];

const ln = (gi, data, color, extra) => Object.assign({type: 'line', xAxisIndex: gi, yAxisIndex: gi, data, showSymbol: false, symbol: 'none',
  lineStyle: {color, width: 1}, itemStyle: {color}, connectNulls: false, silent: true, animation: false}, extra || {});
const mk = (vals, style) => ({silent: true, symbol: ['none', 'none'], label: {show: false}, animation: false,
  lineStyle: Object.assign({type: 'solid', width: 1}, style), data: vals.map(v => ({yAxis: v}))});
const band = (data, color) => ({type: 'custom', xAxisIndex: 2, yAxisIndex: 2, data, encode: {x: 0, y: [1, 2]}, clip: true, silent: true, animation: false,
  renderItem: (params, api) => {
    const h = api.value(0), a = api.value(1), b = api.value(2);
    const p0 = api.coord([h, Math.max(a, b)]), p1 = api.coord([h + BIN_W, Math.min(a, b)]);
    return {type: 'rect', shape: {x: p0[0], y: p0[1], width: p1[0] - p0[0], height: p1[1] - p0[1]}, style: {fill: color}};
  }});

const series = [
  ln(0, pow10(xrayLog), '#ff00ff'),
  {type: 'scatter', xAxisIndex: 0, yAxisIndex: 0, data: pow10(flareLog), symbol: 'circle', symbolSize: 5.5, silent: true, animation: false,
    itemStyle: {color: '#c4c4ff', borderColor: '#2222ff', borderWidth: 1.3}},
  ln(1, [], '#cfcfcf', {markLine: mk([400, 600, 800], {color: '#cfcfcf'})}),
  ln(1, toData(windData), '#00ff00'),
  band(grayCloud, '#d8d8d8'),
  band(blueCloud, '#b6e8ff'),
  band(pinkCloud, '#ffc4f3'),
  ln(2, sectorSeg('X'), '#4f7f4f', {markLine: mk([0], {color: '#5a5a5a'})}),
  ln(2, sectorSeg('T'), '#6a6aee'),
  ln(2, sectorSeg('A'), '#e05050'),
  ln(3, toData(btData), '#0000ff'),
  ln(3, toData(bzData), '#ff0000', {markLine: mk([0], {color: '#a00000', width: 1.2})}),
  ln(4, [], '#d08888', {markLine: mk([0], {color: '#d08888', width: 2})}),
  ln(4, toData(dstData), '#ff00ff'),
  ln(5, toData(cyanB), '#00ffff'),
  ln(5, toData(cyanA), '#00ffff'),
  ln(6, pow10(electronLog), '#9933cc', {markLine: mk([1e6, 1e7], {color: '#c00000'})}),
  ln(7, pow10(protonBlueLog), '#0000ff'),
  ln(7, pow10(protonRedLog), '#ff0000', {markLine: mk([1e4], {color: '#e03030', width: 1.3, type: [9, 6]})}),
  ln(8, pow10(proton10Log), '#1f1fff')
];

const rtY = [57, 102, 147, 282, 327];
const graphic = rtY.map(y => ({type: 'text', x: 622, y, silent: true,
  style: {text: rtLabel, fontSize: 8, fontFamily: FONT, fill: '#333', align: 'left', verticalAlign: 'middle', textVerticalAlign: 'middle'}}));
graphic.push({type: 'text', x: 18.5, y: 416.5, silent: true,
  style: {text: yearLabel, fontSize: 10, fontFamily: FONT, fill: TXT, align: 'center', verticalAlign: 'middle', textAlign: 'center', textVerticalAlign: 'middle'}});

const chart = echarts.init(document.getElementById('c'), null, {renderer: 'canvas'});
chart.setOption({animation: false, backgroundColor: '#fff', textStyle: {fontFamily: FONT},
  grid: grids, xAxis: xAxes, yAxis: yAxes, series, graphic});
</script></body></html>
